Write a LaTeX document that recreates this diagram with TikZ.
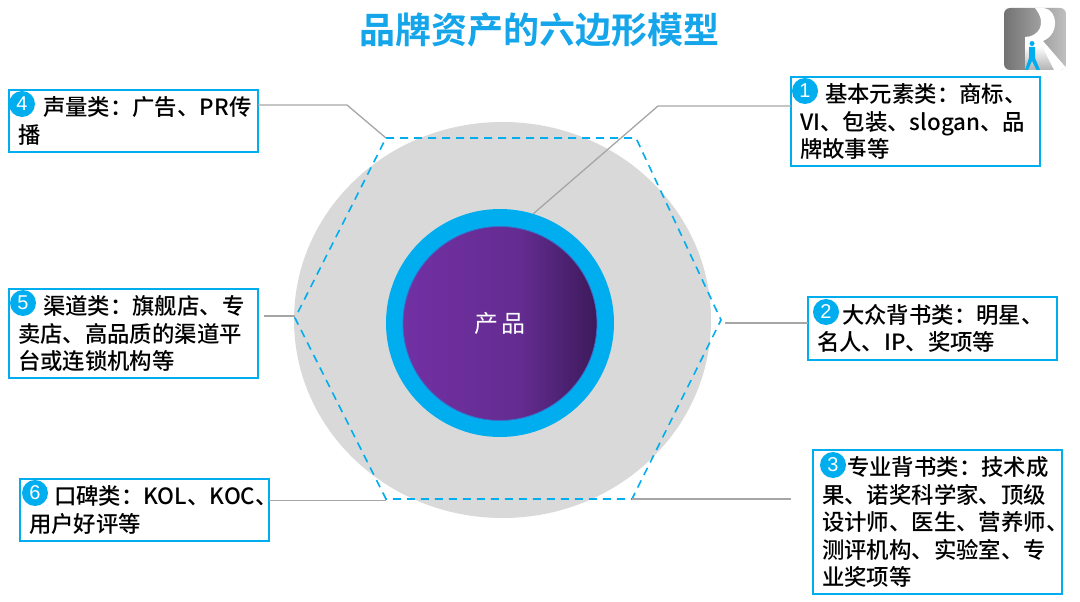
\documentclass[tikz,border=0pt]{standalone}
\usepackage{fontspec}
\setmainfont{Noto Sans CJK SC Medium}[BoldFont={Noto Sans CJK SC Bold}]
\newfontfamily\numfont{Liberation Sans}
\newfontfamily\prodfont{Noto Sans CJK SC}
\usepackage{xcolor}
\usetikzlibrary{positioning}
\definecolor{boxblue}{HTML}{00AEEF}
\definecolor{hexgray}{HTML}{D9D9D9}
\definecolor{linegray}{HTML}{A6A6A6}
\definecolor{titleblue}{HTML}{14A5EA}
\definecolor{prodleft}{HTML}{7230A3}
\definecolor{prodmid}{HTML}{642C91}
\definecolor{prodright}{HTML}{3C1A5B}
\pgfdeclarehorizontalshading{prodshade}{100bp}{color(0bp)=(prodleft);color(25bp)=(prodleft);color(55bp)=(prodmid);color(75bp)=(prodright);color(100bp)=(prodright)}
\begin{document}
\begin{tikzpicture}[x=1pt,y=-1pt]
    \tikzset{infobox/.style = {draw=boxblue, line width=1.6pt, fill=white, anchor=north west, align=left,
        inner xsep=9pt, inner ysep=0pt, outer sep=0pt, text width=231pt, minimum height=62pt,
        font=\fontsize{22.4}{27.5}\selectfont}}
    \tikzset{badge/.style = {circle, fill=boxblue, text=white, minimum size=26pt, inner sep=0pt,
        font=\numfont\fontsize{20}{20}\selectfont}}
    \tikzset{conn/.style = {draw=linegray, line width=1.3pt}}
    \useasboundingbox (0,0) rectangle (1080,602);
    \fill[white] (0,0) rectangle (1080,602);

    \node[text=titleblue, font=\fontsize{36}{40}\selectfont\bfseries] (title) at (539,30) {品牌资产的六边形模型};

    % logo
    \begin{scope}
        \clip[rounded corners=6pt] (1004,8) rectangle (1066,70);
        \shade[left color=black!55, right color=black!25] (1004,8) rectangle (1066,70);
        \shade[top color=white, bottom color=black!30] (1025,46) -- (1042,46) -- (1056,70) -- (1025,70) -- cycle;
        \fill[white] (1035,8) -- (1044,8) .. controls (1058,10) and (1060,34) .. (1043,41) -- (1068,70) -- (1055,72) -- (1042,46) -- (1025,46) -- (1025,37) .. controls (1038,37) and (1048,24) .. (1035,8) -- cycle;
        \fill[boxblue] (1032,43.5) circle (2.5);
        \fill[boxblue] (1029,47) -- (1035,47) -- (1035,58) -- (1040,70) -- (1036.5,70) -- (1032,61) -- (1028,70) -- (1025,70) -- (1029,58) -- cycle;
    \end{scope}

    % disc and hexagon
    \fill[hexgray] (502.5,320) ellipse [x radius=208.5, y radius=198];
    \coordinate (hexa) at (386,138);
    \coordinate (hexb) at (636,138);
    \coordinate (hexc) at (721,320);
    \coordinate (hexd) at (632,499);
    \coordinate (hexe) at (386,499);
    \coordinate (hexf) at (295,318);
    \draw[boxblue, line width=1.6pt, dash pattern=on 8pt off 6pt] (hexa) -- (hexb) -- (hexc) -- (hexd) -- (hexe) -- (hexf) -- cycle;

    % product circle
    \node[circle, fill=boxblue, minimum size=228pt, inner sep=0pt] (ring) at (500,323) {};
    \node[circle, shading=prodshade, draw=boxblue!50!prodleft, line width=0.8pt, minimum size=194pt, inner sep=0pt,
        text=white, font=\prodfont\fontsize{24}{24}\selectfont] (prod) at (500,323.5) {产\hspace{3pt}品};

    % boxes
    \node[infobox] (box4) at (9,90) {\hspace*{25pt}声量类：广告、PR传\\播};
    \node[infobox, minimum height=89pt] (box1) at (791,77) {\hspace*{25pt}基本元素类：商标、\\VI、包装、slogan、品\\牌故事等};
    \node[infobox, minimum height=89pt] (box5) at (9,289) {\hspace*{25pt}渠道类：旗舰店、专\\卖店、高品质的渠道平\\台或连锁机构等};
    \node[infobox, minimum height=63pt] (box2) at (808,297) {\hspace*{25pt}大众背书类：明星、\\名人、IP、奖项等};
    \node[infobox] (box6) at (20,479) {\hspace*{25pt}口碑类：KOL、KOC、\\用户好评等};
    \node[infobox, minimum height=144pt] (box3) at (813,450) {\hspace*{25pt}专业背书类：技术成\\果、诺奖科学家、顶级\\设计师、医生、营养师、\\测评机构、实验室、专\\业奖项等};

    % numbers
    \node[badge] (num1) at (805,91) {1};
    \node[badge] (num2) at (826,312) {2};
    \node[badge] (num3) at (833,465) {3};
    \node[badge] (num4) at (22,104) {4};
    \node[badge] (num5) at (23,303) {5};
    \node[badge] (num6) at (35,493) {6};

    % connectors
    \coordinate (bend4) at (347,105);
    \coordinate (bend1) at (658,106);
    \coordinate (end1) at (533,214);
    \coordinate (end2) at (725,323);
    \coordinate (end3) at (791,499);
    \coordinate (end5) at (264,316);
    \coordinate (end6) at (386,500.5);
    \draw[conn] (box4.east |- bend4) -- (bend4) -- (hexa);
    \draw[conn] (box1.west |- bend1) -- (bend1) -- (end1);
    \draw[conn] (end2) -- (box2.west |- end2);
    \draw[conn] (hexd) -- (end3);
    \draw[conn] (box6.east |- end6) -- (end6);
    \draw[conn] (end5) -- (hexf |- end5);
\end{tikzpicture}
\end{document}
